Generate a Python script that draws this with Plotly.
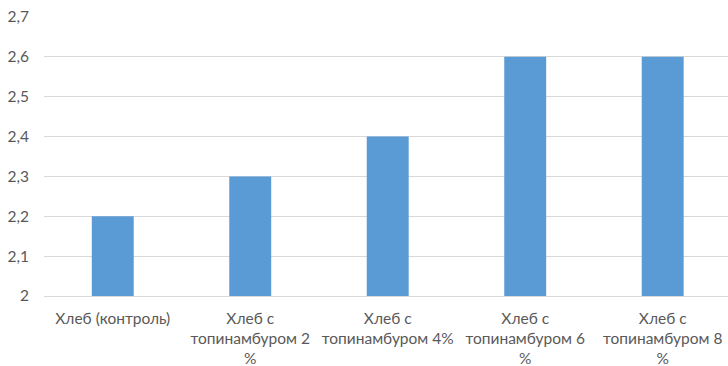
import plotly.graph_objects as go

categories = [
    "Хлеб (контроль)",
    "Хлеб с<br>топинамбуром 2<br>%",
    "Хлеб с<br>топинамбуром 4%",
    "Хлеб с<br>топинамбуром 6<br>%",
    "Хлеб с<br>топинамбуром 8<br>%",
]
values = [2.2, 2.3, 2.4, 2.6, 2.6]
y_ticks = [2.0, 2.1, 2.2, 2.3, 2.4, 2.5, 2.6, 2.7]
y_tick_labels = ["2", "2,1", "2,2", "2,3", "2,4", "2,5", "2,6", "2,7"]

fig = go.Figure(
    go.Bar(
        x=list(range(len(categories))),
        y=values,
        marker=dict(color="#5B9BD5", line=dict(width=0)),
        width=0.305,
    )
)

fig.update_layout(
    width=728,
    height=366,
    margin=dict(l=44, r=0, t=17, b=70),
    paper_bgcolor="white",
    plot_bgcolor="white",
    font=dict(family="Lato", size=15.5, color="#595959"),
    showlegend=False,
)

fig.update_xaxes(
    tickvals=list(range(len(categories))),
    ticktext=categories,
    range=[-0.5, 4.475],
    showgrid=False,
    zeroline=False,
    showline=True,
    linecolor="#D9D9D9",
    linewidth=1,
    ticks="",
    ticklabelstandoff=8,
    automargin=False,
)

fig.update_yaxes(
    range=[2.0, 2.7],
    tickvals=y_ticks,
    ticktext=y_tick_labels,
    showgrid=True,
    gridcolor="#D9D9D9",
    gridwidth=1,
    zeroline=False,
    showline=False,
    ticks="",
    ticklabelstandoff=14,
    automargin=False,
)

fig.write_html("out.html")
